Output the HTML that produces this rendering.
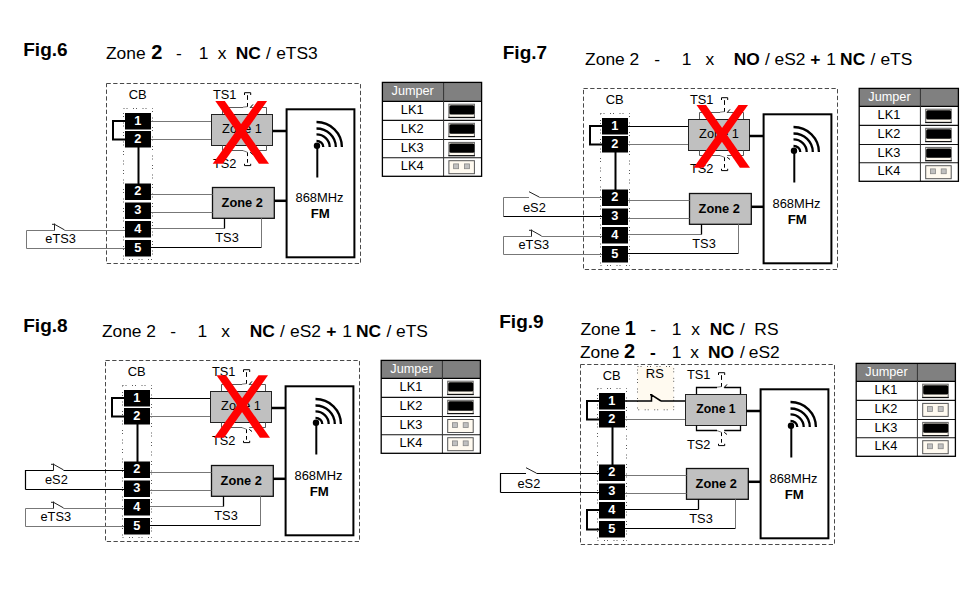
<!DOCTYPE html><html><head><meta charset="utf-8"><style>html,body{margin:0;padding:0;background:#fff;}svg{display:block;}</style></head><body>
<svg width="974" height="590" viewBox="0 0 974 590" font-family='"Liberation Sans", sans-serif'>
<rect width="974" height="590" fill="#fff"/>
<text x="23.25" y="56.00" font-size="19" font-weight="bold" fill="#000" text-anchor="start">Fig.6</text>
<text x="106.00" y="59.40" font-size="17.4" font-weight="normal" fill="#000" text-anchor="start">Zone</text>
<text x="151.18" y="59.40" font-size="20" font-weight="bold" fill="#000" text-anchor="start">2</text>
<text x="175.95" y="59.40" font-size="17.4" font-weight="normal" fill="#000" text-anchor="start">-</text>
<text x="198.75" y="59.40" font-size="17.4" font-weight="normal" fill="#000" text-anchor="start">1</text>
<text x="217.65" y="59.40" font-size="17.4" font-weight="normal" fill="#000" text-anchor="start">x</text>
<text x="235.68" y="59.40" font-size="17.4" font-weight="bold" fill="#000" text-anchor="start">NC</text>
<text x="265.90" y="59.40" font-size="17.4" font-weight="normal" fill="#000" text-anchor="start">/</text>
<text x="276.15" y="59.40" font-size="17.4" font-weight="normal" fill="#000" text-anchor="start">eTS3</text>
<rect x="106.5" y="83.5" width="254" height="180.0" fill="none" stroke="#4a4a4a" stroke-width="1" stroke-dasharray="4.3 2.4"/>
<text x="137.60" y="99.20" font-size="12.9" font-weight="normal" fill="#000" text-anchor="middle">CB</text>
<rect x="123.5" y="108.5" width="29" height="151.0" fill="none" stroke="#5a5a5a" stroke-width="1" stroke-dasharray="1 2 1 5.5"/>
<path d="M125.00,121.00 H113 V139.4 H125" stroke="#000" stroke-width="2" fill="none" />
<path d="M138.50,147.00 V184" stroke="#000" stroke-width="2" fill="none" />
<rect x="125" y="113" width="26" height="16.5" fill="#000"/>
<text x="137.80" y="124.60" font-size="12.8" font-weight="bold" fill="#fff" text-anchor="middle">1</text>
<rect x="125" y="131" width="26" height="16.5" fill="#000"/>
<text x="137.80" y="142.60" font-size="12.8" font-weight="bold" fill="#fff" text-anchor="middle">2</text>
<rect x="125" y="183.5" width="26" height="16.5" fill="#000"/>
<text x="137.80" y="195.10" font-size="12.8" font-weight="bold" fill="#fff" text-anchor="middle">2</text>
<rect x="125" y="202.5" width="26" height="16.5" fill="#000"/>
<text x="137.80" y="214.10" font-size="12.8" font-weight="bold" fill="#fff" text-anchor="middle">3</text>
<rect x="125" y="221" width="26" height="16.5" fill="#000"/>
<text x="137.80" y="232.60" font-size="12.8" font-weight="bold" fill="#fff" text-anchor="middle">4</text>
<rect x="125" y="240" width="26" height="16.5" fill="#000"/>
<text x="137.80" y="251.60" font-size="12.8" font-weight="bold" fill="#fff" text-anchor="middle">5</text>
<path d="M151.00,121.50 H211.5" stroke="#777777" stroke-width="1" fill="none" />
<path d="M151.00,139.50 H211.5" stroke="#777777" stroke-width="1" fill="none" />
<rect x="211.5" y="114.5" width="61" height="31" fill="#c0c0c0" stroke="#222" stroke-width="1"/>
<text x="242.00" y="133.00" font-size="12.8" font-weight="normal" fill="#000" text-anchor="middle">Zone 1</text>
<path d="M222.50,114.00 V107.5 H243 M250.20,107.50 H266.5 V114" stroke="#5a5a5a" stroke-width="1" fill="none" />
<path d="M243.00,107.20 L247.50,106.60" stroke="#777" stroke-width="1" fill="none" />
<path d="M250.20,107.60 L253.00,104.40" stroke="#000" stroke-width="1" fill="none" />
<path d="M244.50,95.00 V92.7 H250.7 V95" stroke="#000" stroke-width="1" fill="none" />
<path d="M247.50,95.20 V106.7" stroke="#000" stroke-width="1" fill="none" stroke-dasharray="4.7 3.1 3.7 10"/>
<text x="213.00" y="98.80" font-size="12.8" font-weight="normal" fill="#000" text-anchor="start">TS1</text>
<path d="M222.50,145.50 V150.5 H243 M250.20,150.50 H266.5 V145.5" stroke="#5a5a5a" stroke-width="1" fill="none" />
<path d="M243.00,150.60 L247.50,152.30" stroke="#777" stroke-width="1" fill="none" />
<path d="M250.20,152.30 L253.00,154.50" stroke="#000" stroke-width="1" fill="none" />
<path d="M244.50,163.80 V165.6 H250.7 V163.8" stroke="#000" stroke-width="1" fill="none" />
<path d="M247.50,152.40 V165" stroke="#000" stroke-width="1" fill="none" stroke-dasharray="3.7 2.9 3.7 10"/>
<text x="213.00" y="168.00" font-size="12.8" font-weight="normal" fill="#000" text-anchor="start">TS2</text>
<rect x="212.5" y="187.5" width="61.8" height="30.8" fill="#c0c0c0" stroke="#111" stroke-width="1.3"/>
<text x="242.20" y="206.80" font-size="12.8" font-weight="bold" fill="#000" text-anchor="middle">Zone 2</text>
<path d="M151.00,194.50 H212.5" stroke="#777777" stroke-width="1" fill="none" />
<path d="M151.00,212.50 H212.5" stroke="#777777" stroke-width="1" fill="none" />
<path d="M151.00,228.50 H224.5" stroke="#777777" stroke-width="1" fill="none" />
<path d="M224.50,228.50 V218.3" stroke="#000" stroke-width="1.3" fill="none" />
<path d="M151.00,247.50 H261.5" stroke="#000" stroke-width="1.2" fill="none" />
<path d="M261.50,247.50 V218.3" stroke="#777777" stroke-width="1" fill="none" />
<text x="215.30" y="241.60" font-size="12.8" font-weight="normal" fill="#000" text-anchor="start">TS3</text>
<path d="M272.50,131.00 H286" stroke="#000" stroke-width="2.5" fill="none" />
<path d="M274.30,200.80 H286" stroke="#000" stroke-width="2.5" fill="none" />
<rect x="286.6" y="109.3" width="67.8" height="148.0" fill="none" stroke="#000" stroke-width="2"/>
<circle cx="317" cy="145.7" r="3.2" fill="#000"/>
<path d="M317.30,145.00 V177.5" stroke="#000" stroke-width="2" fill="none" />
<path d="M316.50,140.80 A6.8,6.2 0 0 1 323.30,147.00" stroke="#000" stroke-width="2.3" fill="none" />
<path d="M316.50,134.40 A13.2,12.6 0 0 1 329.70,147.00" stroke="#000" stroke-width="2.3" fill="none" />
<path d="M316.50,128.50 A19.3,18.5 0 0 1 335.80,147.00" stroke="#000" stroke-width="2.3" fill="none" />
<path d="M316.50,122.00 A25.4,25 0 0 1 341.90,147.00" stroke="#000" stroke-width="2.3" fill="none" />
<text x="319.50" y="202.00" font-size="12.9" font-weight="normal" fill="#000" text-anchor="middle">868MHz</text>
<text x="320.30" y="217.90" font-size="13.2" font-weight="bold" fill="#000" text-anchor="middle">FM</text>
<path d="M125,230.5 H64.5 M54.5,230.5 H26.5 V248.5" stroke="#777777" stroke-width="1" fill="none" />
<path d="M26.5,248.5 H125" stroke="#777777" stroke-width="1" fill="none" />
<path d="M54.5,230.5 V223.7 M52.0,224.3 H55.1 M54.5,224.3 L64.5,229.9" stroke="#222" stroke-width="1" fill="none" />
<text x="45.30" y="243.30" font-size="12.8" font-weight="normal" fill="#000" text-anchor="start">eTS3</text>
<polygon points="215.3,101 224.8,101 269,163.8 258.9,163.8" fill="#ff0000"/>
<polygon points="257.6,101 267.1,101 222.79999999999998,163.8 212.7,163.8" fill="#ff0000"/>
<rect x="382.4" y="82.4" width="99.2" height="18.9" fill="#808080"/>
<text x="412.70" y="95.20" font-size="12.7" font-weight="normal" fill="#fff" text-anchor="middle">Jumper</text>
<text x="412.20" y="113.90" font-size="12.8" font-weight="normal" fill="#000" text-anchor="middle">LK1</text>
<rect x="448.9" y="104.20000000000002" width="25.5" height="13.2" fill="#fffaf0" stroke="#606060" stroke-width="1"/>
<rect x="449.4" y="105.20000000000002" width="25" height="9.4" rx="1.5" fill="#000"/>
<path d="M448.4 117.50000000000001 H474.9" stroke="#111" stroke-width="1.2"/>
<text x="412.20" y="133.00" font-size="12.8" font-weight="normal" fill="#000" text-anchor="middle">LK2</text>
<rect x="448.9" y="123.30000000000001" width="25.5" height="13.2" fill="#fffaf0" stroke="#606060" stroke-width="1"/>
<rect x="449.4" y="124.30000000000001" width="25" height="9.4" rx="1.5" fill="#000"/>
<path d="M448.4 136.60000000000002 H474.9" stroke="#111" stroke-width="1.2"/>
<text x="412.20" y="152.10" font-size="12.8" font-weight="normal" fill="#000" text-anchor="middle">LK3</text>
<rect x="448.9" y="142.4" width="25.5" height="13.2" fill="#fffaf0" stroke="#606060" stroke-width="1"/>
<rect x="449.4" y="143.4" width="25" height="9.4" rx="1.5" fill="#000"/>
<path d="M448.4 155.70000000000002 H474.9" stroke="#111" stroke-width="1.2"/>
<text x="412.20" y="170.30" font-size="12.8" font-weight="normal" fill="#000" text-anchor="middle">LK4</text>
<rect x="448.9" y="160.70000000000002" width="25.5" height="13" fill="#fffaf0" stroke="#555" stroke-width="1"/>
<rect x="453.59999999999997" y="163.90000000000003" width="5" height="4.8" fill="#c0c0c0" stroke="#888" stroke-width="0.8"/>
<rect x="464.4" y="163.90000000000003" width="5" height="4.8" fill="#c0c0c0" stroke="#888" stroke-width="0.8"/>
<path d="M382.4 120.4 H481.59999999999997" stroke="#111" stroke-width="1.1"/>
<path d="M382.4 139.5 H481.59999999999997" stroke="#111" stroke-width="1.1"/>
<path d="M382.4 157.70000000000002 H481.59999999999997" stroke="#111" stroke-width="1.1"/>
<path d="M382.4 101.30000000000001 H481.59999999999997" stroke="#000" stroke-width="1.3"/>
<path d="M443.59999999999997 82.4 V176.3" stroke="#333" stroke-width="1"/>
<rect x="382.4" y="82.4" width="99.2" height="93.9" fill="none" stroke="#000" stroke-width="1.3"/>
<text x="502.75" y="58.90" font-size="19" font-weight="bold" fill="#000" text-anchor="start">Fig.7</text>
<text x="585.10" y="65.00" font-size="17.4" font-weight="normal" fill="#000" text-anchor="start">Zone 2</text>
<text x="654.25" y="65.00" font-size="17.4" font-weight="normal" fill="#000" text-anchor="start">-</text>
<text x="681.75" y="65.00" font-size="17.4" font-weight="normal" fill="#000" text-anchor="start">1</text>
<text x="705.45" y="65.00" font-size="17.4" font-weight="normal" fill="#000" text-anchor="start">x</text>
<text x="733.77" y="65.00" font-size="17.4" font-weight="bold" fill="#000" text-anchor="start">NO</text>
<text x="765.10" y="65.00" font-size="17.4" font-weight="normal" fill="#000" text-anchor="start">/</text>
<text x="774.55" y="65.00" font-size="17.4" font-weight="normal" fill="#000" text-anchor="start">eS2</text>
<text x="810.25" y="65.00" font-size="17.4" font-weight="bold" fill="#000" text-anchor="start">+</text>
<text x="826.25" y="65.00" font-size="17.4" font-weight="normal" fill="#000" text-anchor="start">1</text>
<text x="840.08" y="65.00" font-size="17.4" font-weight="bold" fill="#000" text-anchor="start">NC</text>
<text x="870.50" y="65.00" font-size="17.4" font-weight="normal" fill="#000" text-anchor="start">/</text>
<text x="880.45" y="65.00" font-size="17.4" font-weight="normal" fill="#000" text-anchor="start">eTS</text>
<rect x="583.5" y="88.5" width="254" height="181.0" fill="none" stroke="#4a4a4a" stroke-width="1" stroke-dasharray="4.3 2.4"/>
<text x="614.60" y="104.20" font-size="12.9" font-weight="normal" fill="#000" text-anchor="middle">CB</text>
<rect x="600.5" y="113.5" width="29" height="152.0" fill="none" stroke="#5a5a5a" stroke-width="1" stroke-dasharray="1 2 1 5.5"/>
<path d="M602.00,126.00 H590 V144.4 H602" stroke="#000" stroke-width="2" fill="none" />
<path d="M615.50,152.00 V190" stroke="#000" stroke-width="2" fill="none" />
<rect x="602" y="118" width="26" height="16.5" fill="#000"/>
<text x="614.80" y="129.60" font-size="12.8" font-weight="bold" fill="#fff" text-anchor="middle">1</text>
<rect x="602" y="136" width="26" height="16.5" fill="#000"/>
<text x="614.80" y="147.60" font-size="12.8" font-weight="bold" fill="#fff" text-anchor="middle">2</text>
<rect x="602" y="189.5" width="26" height="16.5" fill="#000"/>
<text x="614.80" y="201.10" font-size="12.8" font-weight="bold" fill="#fff" text-anchor="middle">2</text>
<rect x="602" y="208.5" width="26" height="16.5" fill="#000"/>
<text x="614.80" y="220.10" font-size="12.8" font-weight="bold" fill="#fff" text-anchor="middle">3</text>
<rect x="602" y="227" width="26" height="16.5" fill="#000"/>
<text x="614.80" y="238.60" font-size="12.8" font-weight="bold" fill="#fff" text-anchor="middle">4</text>
<rect x="602" y="246" width="26" height="16.5" fill="#000"/>
<text x="614.80" y="257.60" font-size="12.8" font-weight="bold" fill="#fff" text-anchor="middle">5</text>
<path d="M628.00,126.50 H688.5" stroke="#000" stroke-width="1.2" fill="none" />
<path d="M628.00,144.50 H688.5" stroke="#777777" stroke-width="1" fill="none" />
<rect x="688.5" y="119.5" width="61" height="31" fill="#c0c0c0" stroke="#222" stroke-width="1"/>
<text x="719.00" y="138.00" font-size="12.8" font-weight="normal" fill="#000" text-anchor="middle">Zone 1</text>
<path d="M699.50,119.00 V112.5 H720 M727.20,112.50 H743.5 V119" stroke="#5a5a5a" stroke-width="1" fill="none" />
<path d="M720.00,112.20 L724.50,111.60" stroke="#777" stroke-width="1" fill="none" />
<path d="M727.20,112.60 L730.00,109.40" stroke="#000" stroke-width="1" fill="none" />
<path d="M721.50,100.00 V97.7 H727.7 V100" stroke="#000" stroke-width="1" fill="none" />
<path d="M724.50,100.20 V111.7" stroke="#000" stroke-width="1" fill="none" stroke-dasharray="4.7 3.1 3.7 10"/>
<text x="690.00" y="103.80" font-size="12.8" font-weight="normal" fill="#000" text-anchor="start">TS1</text>
<path d="M699.50,150.50 V155.5 H720 M727.20,155.50 H743.5 V150.5" stroke="#5a5a5a" stroke-width="1" fill="none" />
<path d="M720.00,155.60 L724.50,157.30" stroke="#777" stroke-width="1" fill="none" />
<path d="M727.20,157.30 L730.00,159.50" stroke="#000" stroke-width="1" fill="none" />
<path d="M721.50,168.80 V170.6 H727.7 V168.8" stroke="#000" stroke-width="1" fill="none" />
<path d="M724.50,157.40 V170" stroke="#000" stroke-width="1" fill="none" stroke-dasharray="3.7 2.9 3.7 10"/>
<text x="690.00" y="173.00" font-size="12.8" font-weight="normal" fill="#000" text-anchor="start">TS2</text>
<rect x="689.5" y="193.5" width="61.8" height="30.8" fill="#c0c0c0" stroke="#111" stroke-width="1.3"/>
<text x="719.20" y="212.80" font-size="12.8" font-weight="bold" fill="#000" text-anchor="middle">Zone 2</text>
<path d="M628.00,200.50 H689.5" stroke="#777777" stroke-width="1" fill="none" />
<path d="M628.00,218.50 H689.5" stroke="#777777" stroke-width="1" fill="none" />
<path d="M628.00,234.50 H701.5" stroke="#777777" stroke-width="1" fill="none" />
<path d="M701.50,234.50 V224.3" stroke="#000" stroke-width="1.3" fill="none" />
<path d="M628.00,253.50 H738.5" stroke="#000" stroke-width="1.2" fill="none" />
<path d="M738.50,253.50 V224.3" stroke="#777777" stroke-width="1" fill="none" />
<text x="692.30" y="247.60" font-size="12.8" font-weight="normal" fill="#000" text-anchor="start">TS3</text>
<path d="M749.50,136.00 H763" stroke="#000" stroke-width="2.5" fill="none" />
<path d="M751.30,206.80 H763" stroke="#000" stroke-width="2.5" fill="none" />
<rect x="763.6" y="114.3" width="67.8" height="149.0" fill="none" stroke="#000" stroke-width="2"/>
<circle cx="794" cy="150.7" r="3.2" fill="#000"/>
<path d="M794.30,150.00 V182.5" stroke="#000" stroke-width="2" fill="none" />
<path d="M793.50,145.80 A6.8,6.2 0 0 1 800.30,152.00" stroke="#000" stroke-width="2.3" fill="none" />
<path d="M793.50,139.40 A13.2,12.6 0 0 1 806.70,152.00" stroke="#000" stroke-width="2.3" fill="none" />
<path d="M793.50,133.50 A19.3,18.5 0 0 1 812.80,152.00" stroke="#000" stroke-width="2.3" fill="none" />
<path d="M793.50,127.00 A25.4,25 0 0 1 818.90,152.00" stroke="#000" stroke-width="2.3" fill="none" />
<text x="796.50" y="208.00" font-size="12.9" font-weight="normal" fill="#000" text-anchor="middle">868MHz</text>
<text x="797.30" y="223.90" font-size="13.2" font-weight="bold" fill="#000" text-anchor="middle">FM</text>
<path d="M602,197.5 H539.5 M529,197.5 H503.5 V216.5" stroke="#777777" stroke-width="1" fill="none" />
<path d="M503.5,216.5 H602" stroke="#000" stroke-width="1.2" fill="none" />
<path d="M529,191.7 L539.5,197.2" stroke="#222" stroke-width="1" fill="none" />
<text x="523.00" y="211.50" font-size="12.8" font-weight="normal" fill="#000" text-anchor="start">eS2</text>
<path d="M602,236.5 H541.5 M531.5,236.5 H503.5 V254.5" stroke="#777777" stroke-width="1" fill="none" />
<path d="M503.5,254.5 H602" stroke="#777777" stroke-width="1" fill="none" />
<path d="M531.5,236.5 V229.7 M529.0,230.3 H532.1 M531.5,230.3 L541.5,235.9" stroke="#222" stroke-width="1" fill="none" />
<text x="518.50" y="249.00" font-size="12.8" font-weight="normal" fill="#000" text-anchor="start">eTS3</text>
<polygon points="696.5,105 706.0,105 750,167.8 739.9,167.8" fill="#ff0000"/>
<polygon points="738.5,105 748,105 703.6,167.8 693.5,167.8" fill="#ff0000"/>
<rect x="859.2" y="88.4" width="99.2" height="17.9" fill="#808080"/>
<text x="889.50" y="101.20" font-size="12.7" font-weight="normal" fill="#fff" text-anchor="middle">Jumper</text>
<text x="889.00" y="118.90" font-size="12.8" font-weight="normal" fill="#000" text-anchor="middle">LK1</text>
<rect x="925.7" y="109.20000000000002" width="25.5" height="13.2" fill="#fffaf0" stroke="#606060" stroke-width="1"/>
<rect x="926.2" y="110.20000000000002" width="25" height="9.4" rx="1.5" fill="#000"/>
<path d="M925.2 122.50000000000001 H951.7" stroke="#111" stroke-width="1.2"/>
<text x="889.00" y="138.00" font-size="12.8" font-weight="normal" fill="#000" text-anchor="middle">LK2</text>
<rect x="925.7" y="128.3" width="25.5" height="13.2" fill="#fffaf0" stroke="#606060" stroke-width="1"/>
<rect x="926.2" y="129.3" width="25" height="9.4" rx="1.5" fill="#000"/>
<path d="M925.2 141.60000000000002 H951.7" stroke="#111" stroke-width="1.2"/>
<text x="889.00" y="157.10" font-size="12.8" font-weight="normal" fill="#000" text-anchor="middle">LK3</text>
<rect x="925.7" y="147.4" width="25.5" height="13.2" fill="#fffaf0" stroke="#606060" stroke-width="1"/>
<rect x="926.2" y="148.4" width="25" height="9.4" rx="1.5" fill="#000"/>
<path d="M925.2 160.70000000000002 H951.7" stroke="#111" stroke-width="1.2"/>
<text x="889.00" y="175.30" font-size="12.8" font-weight="normal" fill="#000" text-anchor="middle">LK4</text>
<rect x="925.7" y="165.70000000000002" width="25.5" height="13" fill="#fffaf0" stroke="#555" stroke-width="1"/>
<rect x="930.4000000000001" y="168.90000000000003" width="5" height="4.8" fill="#c0c0c0" stroke="#888" stroke-width="0.8"/>
<rect x="941.2" y="168.90000000000003" width="5" height="4.8" fill="#c0c0c0" stroke="#888" stroke-width="0.8"/>
<path d="M859.2 125.4 H958.4000000000001" stroke="#111" stroke-width="1.1"/>
<path d="M859.2 144.5 H958.4000000000001" stroke="#111" stroke-width="1.1"/>
<path d="M859.2 162.70000000000002 H958.4000000000001" stroke="#111" stroke-width="1.1"/>
<path d="M859.2 106.30000000000001 H958.4000000000001" stroke="#000" stroke-width="1.3"/>
<path d="M920.4000000000001 88.4 V181.3" stroke="#333" stroke-width="1"/>
<rect x="859.2" y="88.4" width="99.2" height="92.9" fill="none" stroke="#000" stroke-width="1.3"/>
<text x="23.25" y="331.90" font-size="19" font-weight="bold" fill="#000" text-anchor="start">Fig.8</text>
<text x="101.90" y="337.00" font-size="17.4" font-weight="normal" fill="#000" text-anchor="start">Zone 2</text>
<text x="170.25" y="337.00" font-size="17.4" font-weight="normal" fill="#000" text-anchor="start">-</text>
<text x="197.45" y="337.00" font-size="17.4" font-weight="normal" fill="#000" text-anchor="start">1</text>
<text x="221.35" y="337.00" font-size="17.4" font-weight="normal" fill="#000" text-anchor="start">x</text>
<text x="249.78" y="337.00" font-size="17.4" font-weight="bold" fill="#000" text-anchor="start">NC</text>
<text x="280.10" y="337.00" font-size="17.4" font-weight="normal" fill="#000" text-anchor="start">/</text>
<text x="290.05" y="337.00" font-size="17.4" font-weight="normal" fill="#000" text-anchor="start">eS2</text>
<text x="326.15" y="337.00" font-size="17.4" font-weight="bold" fill="#000" text-anchor="start">+</text>
<text x="342.25" y="337.00" font-size="17.4" font-weight="normal" fill="#000" text-anchor="start">1</text>
<text x="356.07" y="337.00" font-size="17.4" font-weight="bold" fill="#000" text-anchor="start">NC</text>
<text x="386.40" y="337.00" font-size="17.4" font-weight="normal" fill="#000" text-anchor="start">/</text>
<text x="396.05" y="337.00" font-size="17.4" font-weight="normal" fill="#000" text-anchor="start">eTS</text>
<rect x="105.5" y="360.5" width="254" height="181.0" fill="none" stroke="#4a4a4a" stroke-width="1" stroke-dasharray="4.3 2.4"/>
<text x="136.60" y="376.20" font-size="12.9" font-weight="normal" fill="#000" text-anchor="middle">CB</text>
<rect x="122.5" y="385.5" width="29" height="152.0" fill="none" stroke="#5a5a5a" stroke-width="1" stroke-dasharray="1 2 1 5.5"/>
<path d="M124.00,398.00 H112 V416.4 H124" stroke="#000" stroke-width="2" fill="none" />
<path d="M137.50,424.00 V462" stroke="#000" stroke-width="2" fill="none" />
<rect x="124" y="390" width="26" height="16.5" fill="#000"/>
<text x="136.80" y="401.60" font-size="12.8" font-weight="bold" fill="#fff" text-anchor="middle">1</text>
<rect x="124" y="408" width="26" height="16.5" fill="#000"/>
<text x="136.80" y="419.60" font-size="12.8" font-weight="bold" fill="#fff" text-anchor="middle">2</text>
<rect x="124" y="461.5" width="26" height="16.5" fill="#000"/>
<text x="136.80" y="473.10" font-size="12.8" font-weight="bold" fill="#fff" text-anchor="middle">2</text>
<rect x="124" y="480.5" width="26" height="16.5" fill="#000"/>
<text x="136.80" y="492.10" font-size="12.8" font-weight="bold" fill="#fff" text-anchor="middle">3</text>
<rect x="124" y="499" width="26" height="16.5" fill="#000"/>
<text x="136.80" y="510.60" font-size="12.8" font-weight="bold" fill="#fff" text-anchor="middle">4</text>
<rect x="124" y="518" width="26" height="16.5" fill="#000"/>
<text x="136.80" y="529.60" font-size="12.8" font-weight="bold" fill="#fff" text-anchor="middle">5</text>
<path d="M150.00,398.50 H210.5" stroke="#000" stroke-width="1.2" fill="none" />
<path d="M150.00,416.50 H210.5" stroke="#777777" stroke-width="1" fill="none" />
<rect x="210.5" y="391.5" width="61" height="31" fill="#c0c0c0" stroke="#222" stroke-width="1"/>
<text x="241.00" y="410.00" font-size="12.8" font-weight="normal" fill="#000" text-anchor="middle">Zone 1</text>
<path d="M221.50,391.00 V384.5 H242 M249.20,384.50 H265.5 V391" stroke="#5a5a5a" stroke-width="1" fill="none" />
<path d="M242.00,384.20 L246.50,383.60" stroke="#777" stroke-width="1" fill="none" />
<path d="M249.20,384.60 L252.00,381.40" stroke="#000" stroke-width="1" fill="none" />
<path d="M243.50,372.00 V369.7 H249.7 V372" stroke="#000" stroke-width="1" fill="none" />
<path d="M246.50,372.20 V383.7" stroke="#000" stroke-width="1" fill="none" stroke-dasharray="4.7 3.1 3.7 10"/>
<text x="212.00" y="375.80" font-size="12.8" font-weight="normal" fill="#000" text-anchor="start">TS1</text>
<path d="M221.50,422.50 V427.5 H242 M249.20,427.50 H265.5 V422.5" stroke="#5a5a5a" stroke-width="1" fill="none" />
<path d="M242.00,427.60 L246.50,429.30" stroke="#777" stroke-width="1" fill="none" />
<path d="M249.20,429.30 L252.00,431.50" stroke="#000" stroke-width="1" fill="none" />
<path d="M243.50,440.80 V442.6 H249.7 V440.8" stroke="#000" stroke-width="1" fill="none" />
<path d="M246.50,429.40 V442" stroke="#000" stroke-width="1" fill="none" stroke-dasharray="3.7 2.9 3.7 10"/>
<text x="212.00" y="445.00" font-size="12.8" font-weight="normal" fill="#000" text-anchor="start">TS2</text>
<rect x="211.5" y="465.5" width="61.8" height="30.8" fill="#c0c0c0" stroke="#111" stroke-width="1.3"/>
<text x="241.20" y="484.80" font-size="12.8" font-weight="bold" fill="#000" text-anchor="middle">Zone 2</text>
<path d="M150.00,472.50 H211.5" stroke="#777777" stroke-width="1" fill="none" />
<path d="M150.00,490.50 H211.5" stroke="#777777" stroke-width="1" fill="none" />
<path d="M150.00,506.50 H223.5" stroke="#777777" stroke-width="1" fill="none" />
<path d="M223.50,506.50 V496.3" stroke="#000" stroke-width="1.3" fill="none" />
<path d="M150.00,525.50 H260.5" stroke="#000" stroke-width="1.2" fill="none" />
<path d="M260.50,525.50 V496.3" stroke="#777777" stroke-width="1" fill="none" />
<text x="214.30" y="519.60" font-size="12.8" font-weight="normal" fill="#000" text-anchor="start">TS3</text>
<path d="M271.50,408.00 H285" stroke="#000" stroke-width="2.5" fill="none" />
<path d="M273.30,478.80 H285" stroke="#000" stroke-width="2.5" fill="none" />
<rect x="285.6" y="386.3" width="67.8" height="148.99999999999994" fill="none" stroke="#000" stroke-width="2"/>
<circle cx="316" cy="422.7" r="3.2" fill="#000"/>
<path d="M316.30,422.00 V454.5" stroke="#000" stroke-width="2" fill="none" />
<path d="M315.50,417.80 A6.8,6.2 0 0 1 322.30,424.00" stroke="#000" stroke-width="2.3" fill="none" />
<path d="M315.50,411.40 A13.2,12.6 0 0 1 328.70,424.00" stroke="#000" stroke-width="2.3" fill="none" />
<path d="M315.50,405.50 A19.3,18.5 0 0 1 334.80,424.00" stroke="#000" stroke-width="2.3" fill="none" />
<path d="M315.50,399.00 A25.4,25 0 0 1 340.90,424.00" stroke="#000" stroke-width="2.3" fill="none" />
<text x="318.50" y="480.00" font-size="12.9" font-weight="normal" fill="#000" text-anchor="middle">868MHz</text>
<text x="319.30" y="495.90" font-size="13.2" font-weight="bold" fill="#000" text-anchor="middle">FM</text>
<path d="M124,470.5 H63.5 M53.5,470.5 H25.5 V489.5" stroke="#000" stroke-width="1.2" fill="none" />
<path d="M25.5,489.5 H124" stroke="#000" stroke-width="1.2" fill="none" />
<path d="M53.5,470.5 V463.7 M51.0,464.3 H54.1 M53.5,464.3 L63.5,469.9" stroke="#222" stroke-width="1" fill="none" />
<text x="45.00" y="483.50" font-size="12.8" font-weight="normal" fill="#000" text-anchor="start">eS2</text>
<path d="M124,508.5 H63.5 M53.5,508.5 H25.5 V526.5" stroke="#777777" stroke-width="1" fill="none" />
<path d="M25.5,526.5 H124" stroke="#777777" stroke-width="1" fill="none" />
<path d="M53.5,508.5 V501.7 M51.0,502.3 H54.1 M53.5,502.3 L63.5,507.9" stroke="#222" stroke-width="1" fill="none" />
<text x="40.50" y="521.00" font-size="12.8" font-weight="normal" fill="#000" text-anchor="start">eTS3</text>
<polygon points="216.5,375.2 226.0,375.2 270,437.8 259.9,437.8" fill="#ff0000"/>
<polygon points="258.5,375.2 268,375.2 224.1,437.8 214,437.8" fill="#ff0000"/>
<rect x="381.2" y="360.4" width="99.2" height="17.9" fill="#808080"/>
<text x="411.50" y="373.20" font-size="12.7" font-weight="normal" fill="#fff" text-anchor="middle">Jumper</text>
<text x="411.00" y="390.90" font-size="12.8" font-weight="normal" fill="#000" text-anchor="middle">LK1</text>
<rect x="447.7" y="381.19999999999993" width="25.5" height="13.2" fill="#fffaf0" stroke="#606060" stroke-width="1"/>
<rect x="448.2" y="382.19999999999993" width="25" height="9.4" rx="1.5" fill="#000"/>
<path d="M447.2 394.49999999999994 H473.7" stroke="#111" stroke-width="1.2"/>
<text x="411.00" y="410.00" font-size="12.8" font-weight="normal" fill="#000" text-anchor="middle">LK2</text>
<rect x="447.7" y="400.29999999999995" width="25.5" height="13.2" fill="#fffaf0" stroke="#606060" stroke-width="1"/>
<rect x="448.2" y="401.29999999999995" width="25" height="9.4" rx="1.5" fill="#000"/>
<path d="M447.2 413.59999999999997 H473.7" stroke="#111" stroke-width="1.2"/>
<text x="411.00" y="429.10" font-size="12.8" font-weight="normal" fill="#000" text-anchor="middle">LK3</text>
<rect x="447.7" y="419.49999999999994" width="25.5" height="13" fill="#fffaf0" stroke="#555" stroke-width="1"/>
<rect x="452.4" y="422.69999999999993" width="5" height="4.8" fill="#c0c0c0" stroke="#888" stroke-width="0.8"/>
<rect x="463.2" y="422.69999999999993" width="5" height="4.8" fill="#c0c0c0" stroke="#888" stroke-width="0.8"/>
<text x="411.00" y="447.30" font-size="12.8" font-weight="normal" fill="#000" text-anchor="middle">LK4</text>
<rect x="447.7" y="437.69999999999993" width="25.5" height="13" fill="#fffaf0" stroke="#555" stroke-width="1"/>
<rect x="452.4" y="440.8999999999999" width="5" height="4.8" fill="#c0c0c0" stroke="#888" stroke-width="0.8"/>
<rect x="463.2" y="440.8999999999999" width="5" height="4.8" fill="#c0c0c0" stroke="#888" stroke-width="0.8"/>
<path d="M381.2 397.4 H480.4" stroke="#111" stroke-width="1.1"/>
<path d="M381.2 416.49999999999994 H480.4" stroke="#111" stroke-width="1.1"/>
<path d="M381.2 434.69999999999993 H480.4" stroke="#111" stroke-width="1.1"/>
<path d="M381.2 378.29999999999995 H480.4" stroke="#000" stroke-width="1.3"/>
<path d="M442.4 360.4 V453.29999999999995" stroke="#333" stroke-width="1"/>
<rect x="381.2" y="360.4" width="99.2" height="92.89999999999998" fill="none" stroke="#000" stroke-width="1.3"/>
<text x="499.25" y="327.90" font-size="19" font-weight="bold" fill="#000" text-anchor="start">Fig.9</text>
<text x="580.50" y="334.60" font-size="17.4" font-weight="normal" fill="#000" text-anchor="start">Zone</text>
<text x="624.85" y="334.60" font-size="20" font-weight="bold" fill="#000" text-anchor="start">1</text>
<text x="650.15" y="334.60" font-size="17.4" font-weight="normal" fill="#000" text-anchor="start">-</text>
<text x="671.85" y="334.60" font-size="17.4" font-weight="normal" fill="#000" text-anchor="start">1</text>
<text x="691.15" y="334.60" font-size="17.4" font-weight="normal" fill="#000" text-anchor="start">x</text>
<text x="709.67" y="334.60" font-size="17.4" font-weight="bold" fill="#000" text-anchor="start">NC</text>
<text x="740.00" y="334.60" font-size="17.4" font-weight="normal" fill="#000" text-anchor="start">/</text>
<text x="754.33" y="334.60" font-size="17.4" font-weight="normal" fill="#000" text-anchor="start">RS</text>
<text x="579.90" y="357.80" font-size="17.4" font-weight="normal" fill="#000" text-anchor="start">Zone</text>
<text x="623.98" y="357.80" font-size="20" font-weight="bold" fill="#000" text-anchor="start">2</text>
<text x="649.88" y="357.80" font-size="17.4" font-weight="bold" fill="#000" text-anchor="start">-</text>
<text x="671.85" y="357.80" font-size="17.4" font-weight="normal" fill="#000" text-anchor="start">1</text>
<text x="690.15" y="357.80" font-size="17.4" font-weight="normal" fill="#000" text-anchor="start">x</text>
<text x="707.98" y="357.80" font-size="17.4" font-weight="bold" fill="#000" text-anchor="start">NO</text>
<text x="740.00" y="357.80" font-size="17.4" font-weight="normal" fill="#000" text-anchor="start">/</text>
<text x="748.85" y="357.80" font-size="17.4" font-weight="normal" fill="#000" text-anchor="start">eS2</text>
<rect x="580.5" y="364.5" width="254" height="180.0" fill="none" stroke="#4a4a4a" stroke-width="1" stroke-dasharray="4.3 2.4"/>
<text x="611.60" y="380.20" font-size="12.9" font-weight="normal" fill="#000" text-anchor="middle">CB</text>
<rect x="597.5" y="388.5" width="29" height="152.0" fill="none" stroke="#5a5a5a" stroke-width="1" stroke-dasharray="1 2 1 5.5"/>
<rect x="637.5" y="366.5" width="36.2" height="43.3" fill="#fffaf0" stroke="#5a5a5a" stroke-width="1" stroke-dasharray="1 2 1 5.5"/>
<text x="645.80" y="378.40" font-size="13" font-weight="normal" fill="#000" text-anchor="start">RS</text>
<path d="M599.00,401.00 H587 V419.4 H599" stroke="#000" stroke-width="2" fill="none" />
<path d="M612.50,427.00 V465" stroke="#000" stroke-width="2" fill="none" />
<rect x="599" y="393" width="26" height="16.5" fill="#000"/>
<text x="611.80" y="404.60" font-size="12.8" font-weight="bold" fill="#fff" text-anchor="middle">1</text>
<rect x="599" y="411" width="26" height="16.5" fill="#000"/>
<text x="611.80" y="422.60" font-size="12.8" font-weight="bold" fill="#fff" text-anchor="middle">2</text>
<rect x="599" y="464.5" width="26" height="16.5" fill="#000"/>
<text x="611.80" y="476.10" font-size="12.8" font-weight="bold" fill="#fff" text-anchor="middle">2</text>
<rect x="599" y="483.5" width="26" height="16.5" fill="#000"/>
<text x="611.80" y="495.10" font-size="12.8" font-weight="bold" fill="#fff" text-anchor="middle">3</text>
<rect x="599" y="502" width="26" height="16.5" fill="#000"/>
<text x="611.80" y="513.60" font-size="12.8" font-weight="bold" fill="#fff" text-anchor="middle">4</text>
<rect x="599" y="521" width="26" height="16.5" fill="#000"/>
<text x="611.80" y="532.60" font-size="12.8" font-weight="bold" fill="#fff" text-anchor="middle">5</text>
<path d="M625.00,401.00 H651.5 V394.5 M650.00,394.80 H652.5 M651.50,394.80 L661.00,401.00 M661.00,401.00 H685.5" stroke="#000" stroke-width="1.5" fill="none" />
<path d="M625.00,419.50 H685.5" stroke="#777777" stroke-width="1" fill="none" />
<rect x="685.5" y="394.5" width="61" height="31" fill="#c0c0c0" stroke="#222" stroke-width="1"/>
<text x="716.00" y="413.00" font-size="12.2" font-weight="bold" fill="#000" text-anchor="middle">Zone 1</text>
<path d="M696.50,394.00 V387.5 H717 M724.20,387.50 H740.5 V394" stroke="#000" stroke-width="1.3" fill="none" />
<path d="M717.00,387.20 L721.50,386.60" stroke="#777" stroke-width="1" fill="none" />
<path d="M724.20,387.60 L727.00,384.40" stroke="#000" stroke-width="1" fill="none" />
<path d="M718.50,375.00 V372.7 H724.7 V375" stroke="#000" stroke-width="1" fill="none" />
<path d="M721.50,375.20 V386.7" stroke="#000" stroke-width="1" fill="none" stroke-dasharray="4.7 3.1 3.7 10"/>
<text x="687.00" y="378.80" font-size="12.8" font-weight="normal" fill="#000" text-anchor="start">TS1</text>
<path d="M696.50,425.50 V430.5 H717 M724.20,430.50 H740.5 V425.5" stroke="#000" stroke-width="1.3" fill="none" />
<path d="M717.00,430.60 L721.50,432.30" stroke="#777" stroke-width="1" fill="none" />
<path d="M724.20,432.30 L727.00,434.50" stroke="#000" stroke-width="1" fill="none" />
<path d="M718.50,443.80 V445.6 H724.7 V443.8" stroke="#000" stroke-width="1" fill="none" />
<path d="M721.50,432.40 V445" stroke="#000" stroke-width="1" fill="none" stroke-dasharray="3.7 2.9 3.7 10"/>
<text x="687.00" y="449.00" font-size="12.8" font-weight="normal" fill="#000" text-anchor="start">TS2</text>
<rect x="686.5" y="468.5" width="61.8" height="30.8" fill="#c0c0c0" stroke="#111" stroke-width="1.3"/>
<text x="716.20" y="487.80" font-size="12.8" font-weight="bold" fill="#000" text-anchor="middle">Zone 2</text>
<path d="M625.00,475.50 H686.5" stroke="#777777" stroke-width="1" fill="none" />
<path d="M625.00,493.50 H686.5" stroke="#777777" stroke-width="1" fill="none" />
<path d="M625.00,509.50 H698.5" stroke="#000" stroke-width="1.2" fill="none" />
<path d="M698.50,509.50 V499.3" stroke="#000" stroke-width="1.3" fill="none" />
<path d="M625.00,528.50 H735.5" stroke="#000" stroke-width="1.2" fill="none" />
<path d="M735.50,528.50 V499.3" stroke="#777777" stroke-width="1" fill="none" />
<text x="689.30" y="522.60" font-size="12.8" font-weight="normal" fill="#000" text-anchor="start">TS3</text>
<path d="M746.50,411.00 H760" stroke="#000" stroke-width="2.5" fill="none" />
<path d="M748.30,481.80 H760" stroke="#000" stroke-width="2.5" fill="none" />
<rect x="760.6" y="389.3" width="67.8" height="148.99999999999994" fill="none" stroke="#000" stroke-width="2"/>
<circle cx="791" cy="425.7" r="3.2" fill="#000"/>
<path d="M791.30,425.00 V457.5" stroke="#000" stroke-width="2" fill="none" />
<path d="M790.50,420.80 A6.8,6.2 0 0 1 797.30,427.00" stroke="#000" stroke-width="2.3" fill="none" />
<path d="M790.50,414.40 A13.2,12.6 0 0 1 803.70,427.00" stroke="#000" stroke-width="2.3" fill="none" />
<path d="M790.50,408.50 A19.3,18.5 0 0 1 809.80,427.00" stroke="#000" stroke-width="2.3" fill="none" />
<path d="M790.50,402.00 A25.4,25 0 0 1 815.90,427.00" stroke="#000" stroke-width="2.3" fill="none" />
<text x="793.50" y="483.00" font-size="12.9" font-weight="normal" fill="#000" text-anchor="middle">868MHz</text>
<text x="794.30" y="498.90" font-size="13.2" font-weight="bold" fill="#000" text-anchor="middle">FM</text>
<path d="M599.00,510.00 H587 V529.5 H599" stroke="#000" stroke-width="2" fill="none" />
<path d="M599,473.5 H536.5 M526,473.5 H500.5 V492.5" stroke="#000" stroke-width="1.2" fill="none" />
<path d="M500.5,492.5 H599" stroke="#000" stroke-width="1.2" fill="none" />
<path d="M526,467.7 L536.5,473.2" stroke="#222" stroke-width="1" fill="none" />
<text x="517.50" y="487.50" font-size="12.8" font-weight="normal" fill="#000" text-anchor="start">eS2</text>
<rect x="856.2" y="363.4" width="99.2" height="17.9" fill="#808080"/>
<text x="886.50" y="376.20" font-size="12.7" font-weight="normal" fill="#fff" text-anchor="middle">Jumper</text>
<text x="886.00" y="393.90" font-size="12.8" font-weight="normal" fill="#000" text-anchor="middle">LK1</text>
<rect x="922.7" y="384.19999999999993" width="25.5" height="13.2" fill="#fffaf0" stroke="#606060" stroke-width="1"/>
<rect x="923.2" y="385.19999999999993" width="25" height="9.4" rx="1.5" fill="#000"/>
<path d="M922.2 397.49999999999994 H948.7" stroke="#111" stroke-width="1.2"/>
<text x="886.00" y="413.00" font-size="12.8" font-weight="normal" fill="#000" text-anchor="middle">LK2</text>
<rect x="922.7" y="403.4" width="25.5" height="13" fill="#fffaf0" stroke="#555" stroke-width="1"/>
<rect x="927.4000000000001" y="406.59999999999997" width="5" height="4.8" fill="#c0c0c0" stroke="#888" stroke-width="0.8"/>
<rect x="938.2" y="406.59999999999997" width="5" height="4.8" fill="#c0c0c0" stroke="#888" stroke-width="0.8"/>
<text x="886.00" y="432.10" font-size="12.8" font-weight="normal" fill="#000" text-anchor="middle">LK3</text>
<rect x="922.7" y="422.3999999999999" width="25.5" height="13.2" fill="#fffaf0" stroke="#606060" stroke-width="1"/>
<rect x="923.2" y="423.3999999999999" width="25" height="9.4" rx="1.5" fill="#000"/>
<path d="M922.2 435.69999999999993 H948.7" stroke="#111" stroke-width="1.2"/>
<text x="886.00" y="450.30" font-size="12.8" font-weight="normal" fill="#000" text-anchor="middle">LK4</text>
<rect x="922.7" y="440.69999999999993" width="25.5" height="13" fill="#fffaf0" stroke="#555" stroke-width="1"/>
<rect x="927.4000000000001" y="443.8999999999999" width="5" height="4.8" fill="#c0c0c0" stroke="#888" stroke-width="0.8"/>
<rect x="938.2" y="443.8999999999999" width="5" height="4.8" fill="#c0c0c0" stroke="#888" stroke-width="0.8"/>
<path d="M856.2 400.4 H955.4000000000001" stroke="#111" stroke-width="1.1"/>
<path d="M856.2 419.49999999999994 H955.4000000000001" stroke="#111" stroke-width="1.1"/>
<path d="M856.2 437.69999999999993 H955.4000000000001" stroke="#111" stroke-width="1.1"/>
<path d="M856.2 381.29999999999995 H955.4000000000001" stroke="#000" stroke-width="1.3"/>
<path d="M917.4000000000001 363.4 V456.29999999999995" stroke="#333" stroke-width="1"/>
<rect x="856.2" y="363.4" width="99.2" height="92.89999999999998" fill="none" stroke="#000" stroke-width="1.3"/>
</svg></body></html>
